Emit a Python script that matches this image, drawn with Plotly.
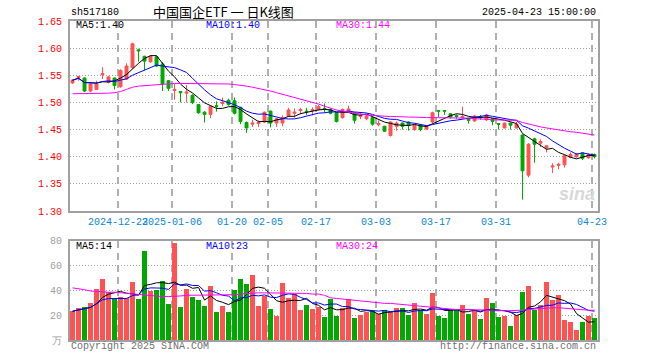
import plotly.graph_objects as go
import pandas as pd

# ---------------- data ----------------
dates = [
    "2024-12-11", "2024-12-12", "2024-12-13", "2024-12-16", "2024-12-17", "2024-12-18", "2024-12-19", "2024-12-20",
    "2024-12-23", "2024-12-24", "2024-12-25", "2024-12-26", "2024-12-27", "2024-12-30", "2024-12-31",
    "2025-01-02", "2025-01-03", "2025-01-06", "2025-01-07", "2025-01-08", "2025-01-09", "2025-01-10",
    "2025-01-13", "2025-01-14", "2025-01-15", "2025-01-16", "2025-01-17", "2025-01-20", "2025-01-21",
    "2025-01-22", "2025-01-23", "2025-01-24", "2025-01-27",
    "2025-02-05", "2025-02-06", "2025-02-07", "2025-02-10", "2025-02-11", "2025-02-12", "2025-02-13",
    "2025-02-14", "2025-02-17", "2025-02-18", "2025-02-19", "2025-02-20", "2025-02-21", "2025-02-24",
    "2025-02-25", "2025-02-26", "2025-02-27", "2025-02-28",
    "2025-03-03", "2025-03-04", "2025-03-05", "2025-03-06", "2025-03-07", "2025-03-10", "2025-03-11",
    "2025-03-12", "2025-03-13", "2025-03-14", "2025-03-17", "2025-03-18", "2025-03-19", "2025-03-20",
    "2025-03-21", "2025-03-24", "2025-03-25", "2025-03-26", "2025-03-27", "2025-03-28", "2025-03-31",
    "2025-04-01", "2025-04-02", "2025-04-03", "2025-04-07", "2025-04-08", "2025-04-09", "2025-04-10",
    "2025-04-11", "2025-04-14", "2025-04-15", "2025-04-16", "2025-04-17", "2025-04-18", "2025-04-21",
    "2025-04-22", "2025-04-23",
]

opens = [
    1.536, 1.546, 1.545, 1.521, 1.524, 1.551, 1.537, 1.545, 1.529, 1.543, 1.564, 1.597, 1.585, 1.575, 1.584,
    1.571, 1.540, 1.522, 1.520, 1.517, 1.513, 1.496, 1.482, 1.478, 1.494, 1.498, 1.504, 1.503, 1.491,
    1.463, 1.460, 1.461, 1.464,
    1.484, 1.462, 1.462, 1.475, 1.480, 1.485, 1.484, 1.485, 1.487, 1.489, 1.487, 1.481, 1.472, 1.483,
    1.481, 1.474, 1.470, 1.472,
    1.459, 1.456, 1.439, 1.456, 1.462, 1.464, 1.450, 1.458, 1.451, 1.464, 1.485, 1.485, 1.479, 1.476,
    1.472, 1.470, 1.466, 1.473, 1.468, 1.470, 1.461,
    1.453, 1.462, 1.453, 1.440, 1.366, 1.433, 1.425, 1.416, 1.381, 1.384, 1.385, 1.399, 1.400, 1.407,
    1.398, 1.404,
]
highs = [
    1.542, 1.548, 1.546, 1.535, 1.540, 1.565, 1.549, 1.546, 1.561, 1.572, 1.610, 1.599, 1.586, 1.587, 1.586,
    1.574, 1.541, 1.534, 1.521, 1.532, 1.515, 1.497, 1.484, 1.494, 1.502, 1.509, 1.507, 1.509, 1.492,
    1.465, 1.468, 1.467, 1.483,
    1.485, 1.471, 1.476, 1.490, 1.489, 1.490, 1.490, 1.491, 1.495, 1.498, 1.489, 1.482, 1.489, 1.494,
    1.482, 1.480, 1.477, 1.474,
    1.467, 1.457, 1.465, 1.465, 1.463, 1.465, 1.460, 1.459, 1.458, 1.483, 1.485, 1.486, 1.480, 1.478,
    1.492, 1.471, 1.477, 1.477, 1.479, 1.471, 1.461,
    1.463, 1.463, 1.464, 1.441, 1.425, 1.435, 1.432, 1.421, 1.388, 1.389, 1.404, 1.408, 1.407, 1.408,
    1.406, 1.406,
]
lows = [
    1.534, 1.540, 1.519, 1.519, 1.523, 1.543, 1.535, 1.524, 1.527, 1.542, 1.562, 1.575, 1.559, 1.573, 1.565,
    1.521, 1.521, 1.505, 1.500, 1.500, 1.497, 1.479, 1.463, 1.471, 1.483, 1.493, 1.494, 1.478, 1.460,
    1.444, 1.455, 1.455, 1.462,
    1.454, 1.455, 1.456, 1.474, 1.472, 1.478, 1.477, 1.476, 1.485, 1.481, 1.478, 1.463, 1.470, 1.481,
    1.461, 1.469, 1.467, 1.457,
    1.456, 1.446, 1.437, 1.448, 1.450, 1.448, 1.448, 1.447, 1.449, 1.462, 1.473, 1.477, 1.470, 1.470,
    1.471, 1.461, 1.464, 1.468, 1.466, 1.458, 1.450,
    1.452, 1.450, 1.452, 1.321, 1.362, 1.389, 1.418, 1.408, 1.370, 1.377, 1.380, 1.397, 1.398, 1.394,
    1.396, 1.397,
]
closes = [
    1.541, 1.548, 1.521, 1.534, 1.534, 1.553, 1.547, 1.531, 1.559, 1.567, 1.608, 1.595, 1.576, 1.585, 1.567,
    1.534, 1.526, 1.524, 1.518, 1.519, 1.500, 1.481, 1.478, 1.493, 1.493, 1.500, 1.496, 1.480, 1.465,
    1.453, 1.462, 1.463, 1.482,
    1.462, 1.470, 1.472, 1.486, 1.482, 1.487, 1.483, 1.487, 1.492, 1.488, 1.480, 1.465, 1.487, 1.488,
    1.467, 1.476, 1.475, 1.460,
    1.461, 1.447, 1.464, 1.462, 1.456, 1.458, 1.458, 1.450, 1.456, 1.481, 1.484, 1.484, 1.473, 1.474,
    1.474, 1.467, 1.475, 1.472, 1.477, 1.465, 1.460,
    1.462, 1.458, 1.460, 1.374, 1.423, 1.423, 1.428, 1.420, 1.383, 1.386, 1.402, 1.404, 1.405, 1.397,
    1.404, 1.400,
]
# volume in 万 (10k) shares
volumes = [
    23.2, 25.6, 26.4, 29.9, 40.8, 48.8, 38.7, 32.8, 34.7, 33.6, 46.4, 32.8, 72.0, 39.2, 40.0,
    47.2, 28.8, 77.9, 26.4, 40.8, 34.4, 32.0, 27.2, 43.2, 22.4, 27.2, 22.4, 40.0, 48.8,
    45.0, 52.0, 27.2, 35.2,
    24.8, 19.2, 45.6, 33.6, 36.8, 24.0, 28.0, 24.8, 26.4, 18.4, 32.8, 19.2, 25.6, 32.8,
    17.6, 20.0, 22.4, 23.2,
    20.8, 24.0, 22.4, 25.6, 25.6, 20.0, 29.6, 24.0, 20.8, 37.6, 19.2, 17.6, 24.0, 24.0,
    28.0, 20.8, 23.2, 16.8, 33.6, 29.6, 18.4,
    19.2, 11.2, 20.0, 38.4, 43.2, 24.0, 28.0, 46.4, 32.0, 36.0, 16.0, 14.4, 8.0, 14.4,
    19.2, 17.6,
]
# 30-day averages (they need history before the window)
price_ma30 = [
    1.516, 1.516, 1.516, 1.517, 1.517, 1.517, 1.517,
    1.518, 1.520, 1.524, 1.528, 1.530, 1.531, 1.532,
    1.533, 1.534, 1.535, 1.535, 1.535, 1.535, 1.535, 1.535, 1.535, 1.535, 1.535, 1.534, 1.534, 1.533,
    1.532, 1.530, 1.528, 1.526, 1.524, 1.521, 1.518, 1.515, 1.512, 1.510, 1.507, 1.504, 1.500, 1.497, 1.493, 1.489,
    1.486, 1.484, 1.482, 1.480, 1.478, 1.477, 1.476, 1.475, 1.475, 1.474, 1.474, 1.473, 1.473, 1.473, 1.472, 1.472,
    1.472, 1.472, 1.472, 1.472, 1.472, 1.471, 1.471, 1.470, 1.470, 1.469, 1.468, 1.468, 1.468, 1.467, 1.467,
    1.463, 1.460, 1.458, 1.455, 1.453, 1.451, 1.449, 1.448, 1.446, 1.445, 1.443, 1.442, 1.440,
]
volume_ma30 = [
    42, 41.5, 40.5, 39.5, 39, 38.5, 38.5, 38.5,
    38, 37.5, 37, 36.5, 36, 35.5, 35, 35,
    35, 35, 35.5, 36, 36, 36, 36, 36, 36, 36, 36, 36.5, 37, 37.5,
    38, 38, 38, 38, 38, 38, 37.5, 37.5, 37.5, 37.5, 37, 37, 36, 34,
    33.5, 33, 32, 31.5, 31, 30.5, 30, 29.5, 29.5, 29.5, 29, 29, 28.5, 28, 27.5, 27,
    26.5, 26, 25.5, 25, 24.5, 24.5, 24.5, 24.5, 24.5, 24.5, 24.5, 24, 23.5, 23.5, 23.5,
    24, 24.5, 25, 25.5, 26, 26, 26, 25.5, 25, 24.5, 24, 24, 24,
]

tick_dates = ["2024-12-23", "2025-01-06", "2025-01-20", "2025-02-05", "2025-02-17",
              "2025-03-03", "2025-03-17", "2025-03-31", "2025-04-23"]
tick_labels = ["2024-12-23", "2025-01-06", "01-20", "02-05", "02-17", "03-03", "03-17", "03-31", "04-23"]
price_ticks = [1.30, 1.35, 1.40, 1.45, 1.50, 1.55, 1.60, 1.65]
vol_ticks = [0, 20, 40, 60, 80]
vol_tick_labels = ["万", "20", "40", "60", "80"]

# ---------------- derived ----------------
x = list(range(len(dates)))
cs = pd.Series(closes)
vs = pd.Series(volumes)
ma5 = cs.rolling(5, min_periods=1).mean()
ma10 = cs.rolling(10, min_periods=1).mean()
vma5 = vs.rolling(5, min_periods=1).mean()
vma10 = vs.rolling(10, min_periods=1).mean()

RED = "#ff5252"
GREEN = "#00a800"
bar_colors = [RED if c >= o else GREEN for o, c in zip(opens, closes)]

GRID_SHIFT = 0.42  # vertical grid lines sit at the left edge of each bar
tickpos = [dates.index(d) - GRID_SHIFT for d in tick_dates]

# pixel helpers for plot area (x: 70..598, y: 21..340)
L, R, T, B = 70, 598, 21, 340
W, H = R - L, B - T
def px(v):
    return (v - L) / W
def py(v):
    return (B - v) / H

MONO = "Liberation Mono, DejaVu Sans Mono, monospace"
FS = 10

fig = go.Figure()
fig.add_trace(go.Candlestick(
    x=x, open=opens, high=highs, low=lows, close=closes,
    increasing=dict(line=dict(color=RED, width=1), fillcolor=RED),
    decreasing=dict(line=dict(color=GREEN, width=1), fillcolor=GREEN),
    whiskerwidth=0, xaxis="x", yaxis="y", showlegend=False, name="K",
))
fig.add_trace(go.Scatter(x=x, y=ma5, mode="lines", line=dict(color="#000000", width=1),
                         xaxis="x", yaxis="y", showlegend=False, name="MA5"))
fig.add_trace(go.Scatter(x=x, y=ma10, mode="lines", line=dict(color="#0000ff", width=1),
                         xaxis="x", yaxis="y", showlegend=False, name="MA10"))
fig.add_trace(go.Scatter(x=x, y=price_ma30, mode="lines", line=dict(color="#ff00ff", width=1),
                         xaxis="x", yaxis="y", showlegend=False, name="MA30"))

fig.add_trace(go.Bar(x=x, y=volumes, marker=dict(color=bar_colors, line=dict(width=0)), width=0.8,
                     xaxis="x2", yaxis="y2", showlegend=False, name="VOL"))
fig.add_trace(go.Scatter(x=x, y=vma5, mode="lines", line=dict(color="#000000", width=1),
                         xaxis="x2", yaxis="y2", showlegend=False))
fig.add_trace(go.Scatter(x=x, y=vma10, mode="lines", line=dict(color="#0000ff", width=1),
                         xaxis="x2", yaxis="y2", showlegend=False))
fig.add_trace(go.Scatter(x=x, y=volume_ma30, mode="lines", line=dict(color="#ff00ff", width=1),
                         xaxis="x2", yaxis="y2", showlegend=False))

xr = [-GRID_SHIFT, len(dates) - GRID_SHIFT]
common_x = dict(range=xr, tickmode="array", tickvals=tickpos, showgrid=True, gridcolor="#b0b0b0",
                gridwidth=1.5, griddash="7px,5px", showline=True, linecolor="#a0a0a0", linewidth=2,
                mirror=True, zeroline=False, ticks="", fixedrange=True)
main_dom = [py(211), 1.0]
vol_dom = [0.0, py(240.7)]

fig.update_layout(
    width=660, height=360,
    margin=dict(l=L, r=660 - R, t=T, b=360 - B),
    paper_bgcolor="white", plot_bgcolor="white",
    bargap=0, boxgap=0.3,
    xaxis=dict(**common_x, anchor="y", domain=[0, 1], ticktext=tick_labels, showticklabels=True,
               tickangle=0, tickfont=dict(family=MONO, size=FS, color="#0a86d8"),
               rangeslider=dict(visible=False)),
    yaxis=dict(domain=main_dom, range=[1.30, 1.65], tickmode="array", tickvals=price_ticks,
               ticktext=[f"{v:.2f}" for v in price_ticks], tickfont=dict(family=MONO, size=FS, color="#ff0000"),
               showgrid=True, gridcolor="#a0a0a0", gridwidth=1, griddash="1px,2px",
               showline=True, linecolor="#a0a0a0", linewidth=2, mirror=True, zeroline=False,
               ticks="", ticklabelstandoff=4, fixedrange=True),
    xaxis2=dict(**common_x, anchor="y2", domain=[0, 1], showticklabels=False),
    yaxis2=dict(domain=vol_dom, range=[0, 80], tickmode="array", tickvals=vol_ticks,
                ticktext=vol_tick_labels, tickfont=dict(family=MONO, size=FS, color="#a0a0a0"),
                showgrid=True, gridcolor="#a0a0a0", gridwidth=1, griddash="1px,2px",
                showline=True, linecolor="#a0a0a0", linewidth=2, mirror=True, zeroline=False,
                ticks="", ticklabelstandoff=4, fixedrange=True),
    hovermode=False,
)

def note(text, xp, yp, color="#000000", size=FS, anchor="left", family=MONO, **kw):
    fig.add_annotation(text=text, x=px(xp), y=py(yp), xref="paper", yref="paper",
                       xanchor=anchor, yanchor="middle", showarrow=False,
                       font=dict(family=family, size=size, color=color), **kw)

note("sh517180", 69, 12.5)
note("中国国企ETF&nbsp;一&nbsp;日K线图", 151, 12, size=13, family="Noto Sans CJK SC")
note("2025-04-23 15:00:00", 598, 12.5, anchor="right")

note(f"MA5:{ma5.iloc[-1]:.2f}", 74, 26)
note(f"MA10:{ma10.iloc[-1]:.2f}", 204, 26, color="#0000ff")
note(f"MA30:{price_ma30[-1]:.2f}", 334, 26, color="#ff00ff")

note(f"MA5:{int(vma5.iloc[-1])}", 74, 246.5)
note(f"MA10:{int(vma10.iloc[-1])}", 204, 246.5, color="#0000ff")
note(f"MA30:{int(volume_ma30[-1])}", 334, 246.5, color="#ff00ff")

note("Copyright 2025 SINA.COM", 69, 346.5, color="#707070")
note("http://finance.sina.com.cn", 598, 346.5, color="#707070", anchor="right")
note("<i><b>sina</b></i>", 597, 194, color="#d8d8d8", size=18, anchor="right", family="Arial, Liberation Sans")

fig.write_html(
    "out.html",
    config={"displayModeBar": False, "staticPlot": True},
    post_script="document.body.style.margin='0';document.body.style.padding='0';",
)
